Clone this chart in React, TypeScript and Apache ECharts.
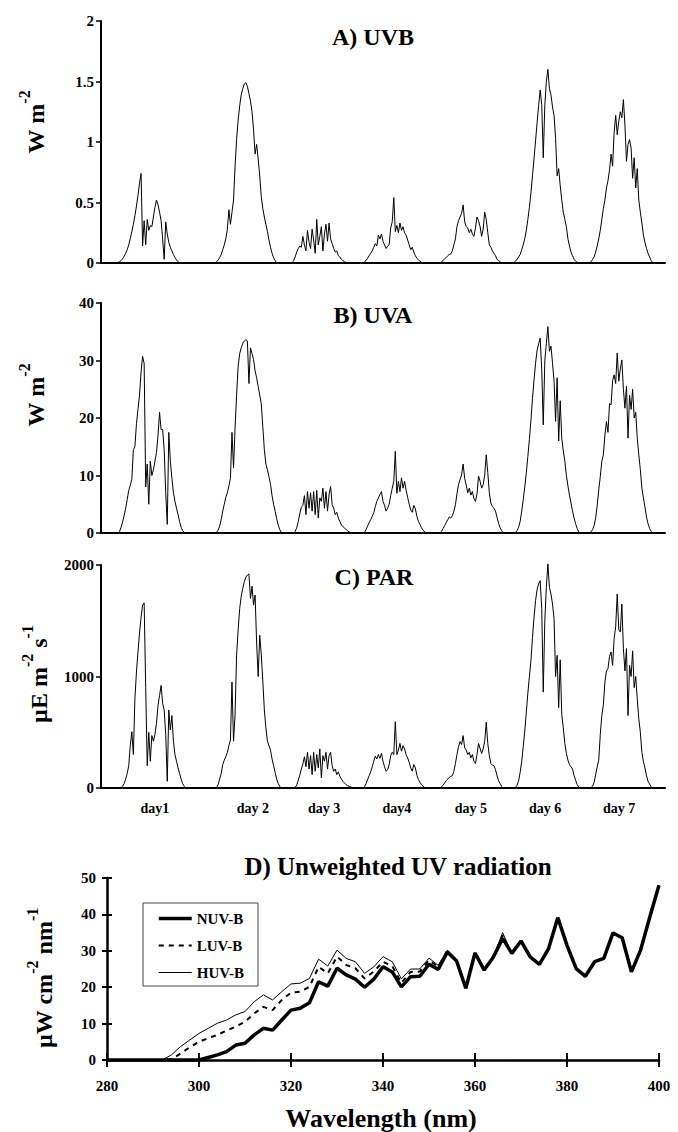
import React, { useEffect, useRef } from "react";
import * as echarts from "echarts";

const SERIF = "'Liberation Serif', 'Times New Roman', serif";

// ---------- Panels A-C : time series (x in hours from start of record) ----------
const STEP = 0.5;
const DAY_STARTS = [5.0, 37.0, 62.0, 85.0, 110.0, 133.5, 158.5];
const DAY_LABELS = ["day1", "day 2", "day 3", "day4", "day 5", "day 6", "day 7"];
const DAY_LABEL_POS = [17.5, 49.3, 72.4, 96.0, 120.0, 144.1, 168.1];

// A) UVB  (W m-2)
const uvbDay1 = [0, 0.005, 0.01, 0.02, 0.035, 0.055, 0.08, 0.11, 0.15, 0.2, 0.26, 0.32, 0.39, 0.47, 0.56, 0.66, 0.74, 0.14, 0.35, 0.15, 0.36, 0.27, 0.31, 0.3, 0.38, 0.46, 0.52, 0.48, 0.42, 0.35, 0.2, 0.03, 0.34, 0.24, 0.17, 0.13, 0.1, 0.07, 0.045, 0.025, 0.01, 0];
const uvbDay2 = [0, 0.01, 0.025, 0.045, 0.07, 0.11, 0.15, 0.2, 0.28, 0.44, 0.32, 0.42, 0.52, 0.8, 1.02, 1.18, 1.3, 1.39, 1.44, 1.48, 1.49, 1.46, 1.4, 1.34, 1.25, 1.1, 0.9, 0.98, 0.86, 0.72, 0.55, 0.45, 0.38, 0.32, 0.26, 0.19, 0.13, 0.08, 0.045, 0.02, 0];
const uvbDay3 = [0, 0.02, 0.05, 0.09, 0.12, 0.14, 0.13, 0.22, 0.15, 0.1, 0.27, 0.17, 0.12, 0.28, 0.19, 0.08, 0.36, 0.15, 0.22, 0.3, 0.1, 0.24, 0.32, 0.18, 0.33, 0.2, 0.16, 0.12, 0.09, 0.1, 0.06, 0.05, 0.03, 0.02, 0.01, 0.005, 0];
const uvbDay4 = [0, 0.01, 0.02, 0.04, 0.06, 0.08, 0.1, 0.13, 0.16, 0.14, 0.23, 0.2, 0.24, 0.18, 0.15, 0.12, 0.14, 0.15, 0.29, 0.34, 0.54, 0.26, 0.31, 0.25, 0.33, 0.27, 0.3, 0.25, 0.23, 0.19, 0.15, 0.11, 0.13, 0.09, 0.06, 0.04, 0.025, 0.015, 0.005, 0];
const uvbDay5 = [0, 0.01, 0.02, 0.035, 0.045, 0.06, 0.07, 0.075, 0.1, 0.15, 0.2, 0.3, 0.35, 0.38, 0.41, 0.48, 0.34, 0.3, 0.29, 0.25, 0.28, 0.24, 0.22, 0.29, 0.38, 0.35, 0.3, 0.22, 0.28, 0.42, 0.36, 0.25, 0.15, 0.13, 0.1, 0.08, 0.06, 0.03, 0.02, 0.01, 0];
const uvbDay6 = [0, 0.005, 0.015, 0.03, 0.05, 0.07, 0.11, 0.15, 0.2, 0.27, 0.36, 0.46, 0.58, 0.72, 0.86, 1.01, 1.16, 1.3, 1.43, 1.31, 0.87, 1.3, 1.5, 1.6, 1.44, 1.39, 1.29, 1.22, 1.03, 0.72, 0.78, 0.64, 0.52, 0.42, 0.36, 0.3, 0.2, 0.14, 0.09, 0.06, 0.03, 0.015, 0.005, 0];
const uvbDay7 = [0, 0.01, 0.03, 0.05, 0.09, 0.14, 0.2, 0.27, 0.36, 0.45, 0.52, 0.62, 0.68, 0.77, 0.9, 0.8, 1.08, 1.22, 1.06, 1.17, 1.25, 1.2, 1.35, 1.14, 0.84, 0.98, 1.02, 0.95, 0.7, 0.87, 0.62, 0.78, 0.52, 0.42, 0.33, 0.23, 0.17, 0.12, 0.08, 0.05, 0.02, 0.005, 0];

// B) UVA  (W m-2)
const uvaDay1 = [0, 0, 0.2, 1.0, 1.9, 3.0, 4.3, 5.8, 7.4, 8.3, 9.3, 14.5, 15.0, 19, 21.5, 24, 28, 30.7, 29.5, 8, 12, 5, 12.5, 10, 11, 12.5, 14, 17, 21, 18, 18, 14.5, 7, 1.5, 17.5, 12.5, 9.5, 7, 5.5, 4.3, 3.2, 2, 1.0, 0.4, 0.1, 0];
const uvaDay2 = [0, 0.1, 0.5, 1.2, 2.3, 3.8, 5.0, 6.2, 7.0, 8.2, 9.5, 17.5, 11.3, 18.3, 24, 29, 31.2, 32.2, 33, 33.4, 33.6, 33.4, 26, 32.2, 31.2, 30.2, 28.2, 27, 25.5, 24, 22.5, 18.5, 14.5, 12, 11, 9.8, 8.5, 6.5, 5, 3.8, 2.5, 1.4, 0.6, 0.1, 0];
const uvaDay3 = [0, 0, 0.3, 0.9, 2.0, 3.3, 4.5, 4.8, 6.5, 3.2, 7.2, 4.3, 7, 3.8, 7.2, 3.2, 7.4, 2.6, 6.1, 5.5, 7.8, 4.3, 7.2, 3.8, 6.7, 8.1, 4.9, 4.3, 3.2, 3.6, 2.6, 2.0, 1.4, 1.1, 0.9, 0.6, 0.4, 0.2, 0.05, 0];
const uvaDay4 = [0, 0.1, 0.6, 1.2, 1.8, 2.3, 2.9, 3.5, 4.6, 5.5, 6.1, 6.7, 7.2, 5.5, 4.8, 3.8, 4.3, 5.0, 6.5, 7.8, 9.0, 14.2, 6.9, 9.0, 7.2, 9.6, 7.8, 9.0, 7.4, 6.2, 5.0, 4.0, 3.6, 4.8, 4.2, 2.9, 2.0, 1.5, 0.9, 0.5, 0.2, 0];
const uvaDay5 = [0, 0.3, 0.8, 1.3, 1.8, 2.3, 2.8, 2.6, 3.0, 3.8, 4.9, 6.8, 8.4, 9.3, 10.1, 12.0, 9.5, 8.3, 7.0, 7.8, 6.6, 7.2, 6.0, 5.5, 6.8, 9.9, 9.0, 7.8, 8.4, 10.1, 13.6, 10.5, 7.0, 5.2, 4.6, 4.3, 3.8, 2.7, 1.7, 0.9, 0.4, 0];
const uvaDay6 = [0, 0, 0.1, 0.4, 1.0, 2.0, 3.8, 5.8, 8.0, 10.5, 13.3, 16.3, 19.6, 23.4, 26.6, 29.5, 31.8, 32.9, 33.9, 28.5, 18.8, 29.9, 33, 35.9, 31.6, 32.5, 29.6, 26.4, 19.4, 27, 16, 23, 16.5, 14.3, 12.5, 10, 8.2, 6.6, 5.2, 3.8, 2.6, 1.6, 0.8, 0.2, 0];
const uvaDay7 = [0, 0.2, 0.6, 1.3, 2.6, 4.8, 7.5, 9.8, 12.5, 13.6, 17, 19.4, 17.5, 22.5, 22.3, 26.5, 27.5, 26, 31.3, 26.4, 28.5, 30.1, 25, 21.7, 25.5, 16.5, 24, 21.5, 25, 20, 21, 16.5, 13.6, 11, 7.8, 6.1, 4.5, 2.8, 1.6, 0.8, 0.3, 0];

// C) PAR  (µE m-2 s-1)
const parDay1 = [0, 0, 0, 5, 15, 40, 80, 130, 200, 380, 505, 300, 800, 1040, 1220, 1390, 1530, 1640, 1660, 900, 200, 500, 240, 470, 420, 480, 580, 740, 830, 920, 760, 700, 480, 60, 700, 520, 650, 420, 300, 240, 180, 130, 80, 40, 15, 0];
const parDay2 = [0, 5, 30, 80, 130, 210, 250, 280, 320, 380, 430, 950, 420, 660, 1190, 1420, 1610, 1720, 1790, 1850, 1890, 1910, 1920, 1700, 1810, 1640, 1730, 1300, 1000, 1370, 1200, 960, 700, 540, 420, 380, 340, 260, 200, 140, 80, 40, 15, 0];
const parDay3 = [0, 0, 5, 25, 70, 115, 170, 215, 280, 190, 320, 170, 290, 120, 320, 150, 300, 180, 350, 90, 290, 240, 320, 170, 290, 320, 200, 150, 170, 120, 145, 105, 80, 60, 45, 30, 22, 15, 10, 5, 2, 0];
const parDay4 = [0, 10, 40, 75, 110, 145, 190, 240, 285, 260, 300, 266, 311, 240, 190, 150, 165, 210, 290, 320, 300, 595, 300, 340, 400, 330, 380, 350, 300, 270, 230, 180, 150, 210, 180, 115, 75, 50, 28, 15, 5, 0];
const parDay5 = [0, 10, 25, 45, 65, 80, 95, 105, 110, 150, 220, 300, 370, 416, 390, 470, 360, 340, 300, 320, 270, 300, 240, 220, 300, 400, 355, 310, 350, 420, 590, 400, 290, 220, 205, 200, 165, 110, 65, 40, 15, 0];
const parDay6 = [0, 0, 5, 25, 65, 140, 236, 370, 510, 680, 850, 1000, 1140, 1350, 1530, 1680, 1780, 1830, 1860, 1610, 860, 1500, 1800, 2010, 1800, 1740, 1650, 1520, 1000, 1190, 720, 1150, 660, 540, 400, 310, 250, 210, 190, 170, 110, 70, 30, 8, 0];
const parDay7 = [0, 5, 15, 50, 120, 190, 250, 480, 650, 745, 950, 1050, 1070, 1180, 1220, 1100, 1340, 1450, 1740, 1420, 1400, 1650, 1250, 1050, 1250, 650, 1100, 1000, 1230, 900, 1000, 800, 620, 500, 320, 236, 180, 110, 60, 35, 10, 0];

// ---------- Panel D : spectra ----------
const wavelengths = [280, 282, 284, 286, 288, 290, 292, 294, 296, 298, 300, 302, 304, 306, 308, 310, 312, 314, 316, 318, 320, 322, 324, 326, 328, 330, 332, 334, 336, 338, 340, 342, 344, 346, 348, 350, 352, 354, 356, 358, 360, 362, 364, 366, 368, 370, 372, 374, 376, 378, 380, 382, 384, 386, 388, 390, 392, 394, 396, 398, 400];
const nuvB = [0, 0, 0, 0, 0, 0, 0, 0, 0, 0, 0, 0.7, 1.4, 2.3, 4.1, 4.6, 6.9, 8.7, 8.2, 11, 13.7, 14.2, 15.7, 21.5, 20.3, 25.2, 23.4, 22.2, 20, 22.2, 25.6, 24.2, 20.1, 22.9, 23.0, 26.3, 24.9, 29.7, 27.2, 19.7, 29.4, 24.7, 28.3, 33.4, 29.3, 32.7, 28.3, 26.3, 30.6, 39.1, 31.5, 25.1, 23.0, 27.0, 27.9, 34.9, 33.6, 24.2, 30.2, 39.3, 48];
const luvB = [0, 0, 0, 0, 0, 0, 0, 0.2, 1.8, 3.5, 5.0, 6.0, 6.9, 8.1, 9.2, 10.5, 12.8, 14.6, 13.7, 16.5, 18.5, 18.8, 20.1, 25.6, 23.8, 28.4, 26.1, 25.2, 22.4, 24.3, 27, 25.8, 21.2, 24.2, 24.3, 27.4, 25.6, 29.9, 27.4, 19.7, 29.4, 24.7, 28.3, 34.2, 29.3, 32.7, 28.3, 26.3, 30.6, 39.1, 31.5, 25.1, 23.0, 27.0, 27.9, 34.9, 33.6, 24.2, 30.2, 39.3, 48];
const huvB = [0, 0, 0, 0, 0, 0, 0, 1.4, 3.7, 5.5, 7.3, 8.7, 10.1, 11, 12.4, 13.3, 16, 17.9, 16.5, 18.8, 20.9, 21.1, 22.4, 27.7, 25.8, 30.2, 27.9, 27, 23.8, 25.6, 28.4, 27, 22.3, 25, 25, 28, 26, 30.2, 27.6, 19.8, 29.4, 24.7, 28.3, 35, 29.3, 32.7, 28.3, 26.3, 30.6, 39.1, 31.5, 25.1, 23.0, 27.0, 27.9, 34.9, 33.6, 24.2, 30.2, 39.3, 48];

const uvbDays = [uvbDay1, uvbDay2, uvbDay3, uvbDay4, uvbDay5, uvbDay6, uvbDay7];
const uvaDays = [uvaDay1, uvaDay2, uvaDay3, uvaDay4, uvaDay5, uvaDay6, uvaDay7];
const parDays = [parDay1, parDay2, parDay3, parDay4, parDay5, parDay6, parDay7];

function panelData(days: number[][]) {
  const out: number[][] = [];
  days.forEach((vals, d) => {
    vals.forEach((v, i) => out.push([DAY_STARTS[d] + i * STEP, v]));
  });
  return out;
}

const bold = (size: number) => ({ fontFamily: SERIF, fontWeight: "bold" as const, fontSize: size, color: "#000" });

function titleText(text: string, x: number, y: number, size: number) {
  return {
    type: "text",
    x,
    y,
    style: { text, font: `bold ${size}px ${SERIF}`, fill: "#000", align: "center", verticalAlign: "middle" },
  };
}

function yNameText(rich: string, x: number, y: number) {
  return {
    type: "text",
    x,
    y,
    rotation: Math.PI / 2,
    style: {
      text: rich,
      align: "center",
      verticalAlign: "middle",
      fill: "#000",
      rich: {
        m: { fontFamily: SERIF, fontWeight: "bold", fontSize: 24, lineHeight: 32, verticalAlign: "bottom", fill: "#000" },
        s: { fontFamily: SERIF, fontWeight: "bold", fontSize: 16, lineHeight: 32, verticalAlign: "top", fill: "#000" },
      },
    },
  };
}

function timeXAxis(gridIndex: number, withLabels: boolean) {
  return {
    gridIndex,
    type: "value",
    min: 0,
    max: 183,
    axisLine: { show: true, lineStyle: { color: "#000", width: 2 } },
    axisTick: { show: false },
    splitLine: { show: false },
    axisLabel: withLabels
      ? {
          show: true,
          customValues: DAY_LABEL_POS,
          formatter: (v: number) => {
            const idx = DAY_LABEL_POS.indexOf(v);
            return idx >= 0 ? DAY_LABELS[idx] : "";
          },
          margin: 13,
          ...bold(14),
        }
      : { show: false },
  };
}

function timeYAxis(gridIndex: number, max: number, interval: number) {
  return {
    gridIndex,
    type: "value",
    min: 0,
    max,
    interval,
    axisLine: { show: true, lineStyle: { color: "#000", width: 2 } },
    axisTick: { show: true, length: 5, lineStyle: { color: "#000", width: 1.5 } },
    splitLine: { show: false },
    axisLabel: { margin: 7, formatter: (v: number) => String(v), ...bold(15) },
  };
}

function lineSeries(name: string, data: number[][], axis: number, extra: any = {}) {
  return {
    name,
    type: "line",
    xAxisIndex: axis,
    yAxisIndex: axis,
    data,
    symbol: "none",
    showSymbol: false,
    clip: false,
    lineStyle: { color: "#000", width: 1 },
    itemStyle: { color: "#000" },
    ...extra,
  };
}

export default function App() {
  const ref = useRef<HTMLDivElement>(null);

  useEffect(() => {
    if (!ref.current) return;
    const chart = echarts.init(ref.current, null, { renderer: "svg" });

    const option: any = {
      animation: false,
      backgroundColor: "#fff",
      textStyle: { fontFamily: SERIF },
      grid: [
        { left: 101, top: 21, width: 564, height: 242 },
        { left: 101, top: 303, width: 564, height: 230 },
        { left: 101, top: 565, width: 564, height: 223 },
        { left: 107, top: 878, width: 552, height: 182 },
      ],
      legend: {
        data: [
          { name: "NUV-B", lineStyle: { width: 3.5, color: "#000" } },
          { name: "LUV-B", lineStyle: { width: 2, color: "#000", type: [5, 5] } },
          { name: "HUV-B", lineStyle: { width: 1, color: "#000" } },
        ],
        orient: "vertical",
        left: 143,
        top: 903,
        padding: [8, 14, 6, 14],
        itemWidth: 33,
        itemHeight: 12,
        itemGap: 12,
        borderColor: "#444",
        borderWidth: 1,
        selectedMode: false,
        itemStyle: { opacity: 0 },
        textStyle: { ...bold(15), lineHeight: 14 },
      },
      xAxis: [
        timeXAxis(0, false),
        timeXAxis(1, false),
        timeXAxis(2, true),
        {
          gridIndex: 3,
          type: "value",
          position: "bottom",
          min: 280,
          max: 400,
          interval: 20,
          axisLine: { show: true, lineStyle: { color: "#000", width: 2.5 } },
          axisTick: { show: true, length: 7, lineStyle: { color: "#000", width: 2 } },
          splitLine: { show: false },
          axisLabel: { margin: 18, ...bold(15) },
        },
        {
          gridIndex: 3,
          type: "value",
          position: "bottom",
          min: 280,
          max: 400,
          interval: 20,
          axisLine: { show: false },
          axisTick: { show: true, inside: true, length: 7, lineStyle: { color: "#000", width: 2 } },
          splitLine: { show: false },
          axisLabel: { show: false },
        },
      ],
      yAxis: [
        timeYAxis(0, 2, 0.5),
        timeYAxis(1, 40, 10),
        timeYAxis(2, 2000, 1000),
        {
          gridIndex: 3,
          type: "value",
          position: "left",
          min: 0,
          max: 50,
          interval: 10,
          axisLine: { show: true, lineStyle: { color: "#000", width: 2.5 } },
          axisTick: { show: true, length: 5, lineStyle: { color: "#000", width: 2 } },
          splitLine: { show: false },
          axisLabel: { margin: 11, ...bold(15) },
        },
        {
          gridIndex: 3,
          type: "value",
          position: "left",
          min: 0,
          max: 50,
          interval: 10,
          axisLine: { show: false },
          axisTick: { show: true, inside: true, length: 5, lineStyle: { color: "#000", width: 2 } },
          splitLine: { show: false },
          axisLabel: { show: false },
        },
      ],
      series: [
        lineSeries("UVB", panelData(uvbDays), 0),
        lineSeries("UVA", panelData(uvaDays), 1),
        lineSeries("PAR", panelData(parDays), 2),
        lineSeries("HUV-B", wavelengths.map((w, i) => [w, huvB[i]]), 3, {
          lineStyle: { color: "#000", width: 1 },
        }),
        lineSeries("LUV-B", wavelengths.map((w, i) => [w, luvB[i]]), 3, {
          lineStyle: { color: "#000", width: 2, type: [5, 5] },
        }),
        lineSeries("NUV-B", wavelengths.map((w, i) => [w, nuvB[i]]), 3, {
          lineStyle: { color: "#000", width: 3.5 },
        }),
      ],
      graphic: [
        titleText("A) UVB", 373, 37, 24),
        titleText("B) UVA", 373, 315, 24),
        titleText("C) PAR", 374, 577, 24),
        titleText("D) Unweighted UV radiation", 398, 866, 25),
        titleText("Wavelength (nm)", 381, 1118, 26),
        yNameText("{m|W m}{s|-2}", 32, 122),
        yNameText("{m|W m}{s|-2}", 32, 395),
        yNameText("{m|µE m}{s|-2}{m| s}{s|-1}", 35, 674),
        yNameText("{m|µW cm}{s|-2}{m| nm}{s|-1}", 40, 978),
      ],
    };

    chart.setOption(option);
    return () => chart.dispose();
  }, []);

  return (
    <div
      ref={ref}
      style={{ position: "absolute", left: 0, top: 0, width: 678, height: 1132, background: "#fff" }}
    />
  );
}
